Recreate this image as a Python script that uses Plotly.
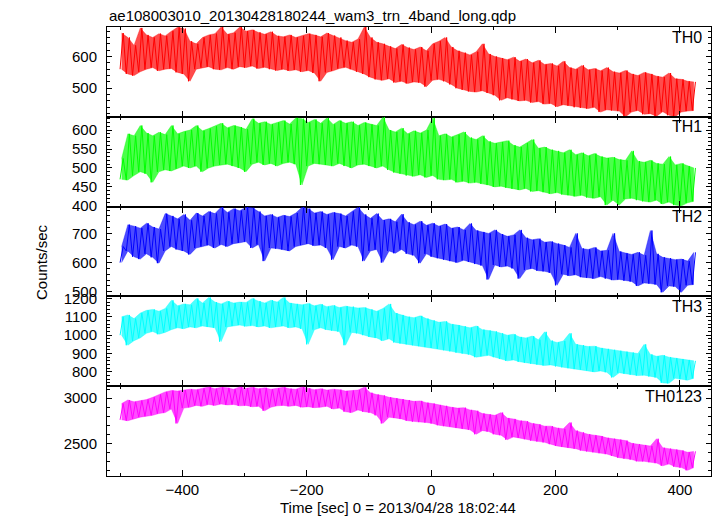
import plotly.graph_objects as go

# time grid (sec), every 10 s; each bin has a low and a high reading
t = list(range(-500, 421, 10))

th0_hi = [674,660,635,690,668,660,672,665,680,692,688,648,640,660,668,672,693,670,675,693,
          680,684,676,670,678,665,662,668,660,665,672,668,662,674,666,660,650,645,655,693,
          660,645,640,632,625,638,628,622,630,618,640,648,660,630,618,612,605,615,640,608,
          600,595,590,598,585,592,580,588,575,578,570,585,565,560,572,558,562,555,565,552,
          548,556,545,540,550,545,538,535,548,530,528,522,520]
th0_lo = [560,545,540,552,560,565,555,560,562,550,545,522,560,565,568,560,558,565,560,568,
          565,570,562,566,560,556,560,555,558,552,556,548,522,550,555,562,566,560,552,545,
          535,528,525,530,518,522,515,520,518,505,525,528,522,512,500,495,490,488,492,485,
          478,462,470,465,460,462,455,458,450,452,442,448,445,440,438,436,440,425,432,430,
          428,410,425,430,418,420,412,426,415,410,425,428,430]

th1_hi = [525,590,585,612,592,585,594,588,612,590,596,600,612,598,604,610,618,606,612,608,
          602,630,618,622,615,620,625,616,632,630,620,628,618,632,615,625,618,622,612,620,
          615,612,634,600,595,605,590,598,592,600,632,585,590,582,588,595,580,575,585,570,
          565,568,572,560,555,565,575,552,555,548,545,540,548,535,540,532,538,530,526,528,
          522,520,545,518,515,520,512,510,530,508,512,505,500]
th1_lo = [470,468,480,490,485,462,490,495,492,498,505,500,505,490,500,505,508,510,505,500,
          490,510,515,508,512,505,512,515,510,455,505,512,510,508,505,512,505,500,508,510,
          505,500,505,495,488,485,480,478,482,475,480,470,468,470,462,465,460,462,458,455,
          450,452,448,445,442,446,438,440,436,432,435,430,428,425,428,422,420,424,402,415,
          402,418,420,415,412,410,415,405,410,402,400,408,412]

th2_hi = [655,730,725,718,735,722,715,768,760,750,765,745,770,760,775,768,790,772,785,778,
          790,788,775,760,765,755,762,758,770,790,785,770,775,765,772,768,760,775,790,765,
          752,768,745,750,740,766,738,730,742,728,735,725,732,718,722,712,734,710,705,700,
          712,698,690,695,712,685,678,682,670,672,665,660,652,700,648,645,652,640,642,700,
          638,632,628,635,625,710,630,618,615,610,612,605,635]
th2_lo = [600,640,620,612,630,618,598,640,655,645,640,628,650,655,660,650,662,655,665,668,
          672,650,662,605,650,648,645,640,655,660,665,658,660,650,610,655,650,660,655,605,
          640,645,600,640,632,645,630,625,598,630,620,615,610,605,600,608,602,595,590,542,
          592,585,588,580,545,575,580,572,570,565,522,560,555,558,550,548,545,552,545,540,
          542,538,535,520,530,528,525,498,520,518,498,522,525]

th3_hi = [1100,1110,1090,1120,1135,1140,1130,1145,1190,1160,1170,1165,1200,1175,1205,1180,1170,1185,1175,1180,
          1178,1200,1185,1175,1190,1180,1205,1175,1170,1165,1172,1160,1168,1155,1162,1150,1158,1155,1148,1150,
          1140,1130,1145,1170,1120,1110,1100,1095,1105,1090,1080,1070,1075,1060,1055,1048,1040,1050,1030,1025,
          1020,1010,1000,1005,990,985,995,975,1018,970,960,968,1010,950,945,938,940,930,925,920,
          915,910,905,900,950,895,885,890,880,875,870,865,860]
th3_lo = [1000,945,970,985,1010,1020,1005,1015,1030,1040,1035,1045,1040,1050,1045,1040,965,1045,1050,1055,
          1048,1052,1045,1050,1040,1045,1050,1040,1045,1035,950,1030,1040,1030,1025,1020,945,1015,1010,1000,
          990,985,970,980,960,955,950,945,940,935,930,925,918,912,905,900,895,880,885,890,
          880,870,860,865,855,850,845,840,835,838,830,825,820,815,812,808,800,805,798,770,
          795,790,785,780,782,775,770,740,738,765,760,755,765]

th0123_hi = [2940,2980,2960,2975,2985,3010,3040,3070,3085,3080,3090,3100,3095,3110,3125,3105,3120,3115,3100,3125,
             3110,3120,3105,3115,3100,3110,3120,3105,3100,3125,3110,3095,3105,3090,3100,3095,3080,3085,3090,3120,
             3060,3040,3030,3010,3000,2990,2980,2965,2970,2950,2940,2925,2915,2900,2890,2895,2870,2860,2830,2820,
             2810,2840,2780,2770,2750,2745,2720,2710,2690,2690,2670,2660,2730,2640,2620,2600,2590,2580,2560,2550,
             2540,2530,2500,2490,2480,2470,2550,2450,2440,2430,2420,2400,2410]
th0123_lo = [2760,2750,2770,2790,2800,2810,2830,2840,2880,2720,2890,2900,2920,2910,2930,2920,2935,2925,2930,2915,
             2920,2905,2910,2860,2900,2915,2920,2910,2920,2900,2905,2895,2900,2910,2880,2890,2850,2840,2870,2850,
             2840,2810,2720,2790,2780,2770,2750,2740,2735,2730,2720,2700,2690,2685,2670,2660,2650,2600,2640,2630,
             2600,2590,2540,2570,2560,2545,2530,2520,2510,2490,2470,2460,2450,2440,2420,2410,2400,2390,2380,2360,
             2340,2330,2320,2300,2300,2290,2280,2250,2270,2240,2230,2200,2230]

names = ["TH0", "TH1", "TH2", "TH3", "TH0123"]
his = [th0_hi, th1_hi, th2_hi, th3_hi, th0123_hi]
los = [th0_lo, th1_lo, th2_lo, th3_lo, th0123_lo]
colors = ["#ff0000", "#00ff00", "#0000ff", "#00ffff", "#ff00ff"]
fills = ["rgba(255,0,0,0.7)", "rgba(0,255,0,0.7)", "rgba(0,0,255,0.7)",
         "rgba(0,255,255,0.7)", "rgba(255,0,255,0.7)"]
yranges = [[410, 693], [398, 635], [484, 792], [722, 1211], [2137, 3133]]
ydticks = [100, 50, 100, 100, 500]
yminor = [20, 10, 20, 20, 100]

fig = go.Figure()
n = len(names)
for k in range(n):
    ax = "" if k == 0 else str(k + 1)
    xs, ys = [], []
    for ti, lo, hi in zip(t, los[k], his[k]):
        xs += [ti, ti + 5]
        ys += [lo, hi]
    xm = [ti + 2.5 for ti in t]
    # envelope: extent of the data and its error bars
    fig.add_trace(go.Scatter(x=xm, y=his[k], mode="lines",
                             line=dict(width=0.5, color=fills[k]), xaxis="x" + ax, yaxis="y" + ax,
                             showlegend=False, hoverinfo="skip"))
    fig.add_trace(go.Scatter(x=xm, y=los[k], mode="lines",
                             line=dict(width=0.5, color=fills[k]), fill="tonexty",
                             fillcolor=fills[k], xaxis="x" + ax, yaxis="y" + ax,
                             showlegend=False, hoverinfo="skip"))
    # the light curve itself, low/high readings in turn
    fig.add_trace(go.Scatter(x=xs, y=ys, mode="lines", line=dict(width=1, color=colors[k]),
                             xaxis="x" + ax, yaxis="y" + ax, showlegend=False))

L, R, T, B = 107, 711, 27, 476
W, H = 717, 516
layout = dict(width=W, height=H, margin=dict(l=L, r=W - R, t=T, b=H - B),
              paper_bgcolor="white", plot_bgcolor="white",
              font=dict(family="Liberation Sans, Arial, sans-serif", size=15, color="black"),
              showlegend=False)
for k in range(n):
    ax = "" if k == 0 else str(k + 1)
    dom = [1 - (k + 1) / n, 1 - k / n]
    layout["xaxis" + ax] = dict(
        range=[-521, 450], anchor="y" + ax, domain=[0, 1],
        showline=True, linecolor="black", linewidth=1, mirror="allticks",
        ticks="inside", ticklen=6, tickcolor="black", tickwidth=1,
        dtick=200, tick0=0, showgrid=False, zeroline=False,
        minor=dict(dtick=100, tick0=0, ticklen=3, ticks="inside", tickcolor="black", showgrid=False),
        showticklabels=(k == n - 1), tickfont=dict(size=15),
        **({} if k == 0 else {"matches": "x"}))
    layout["yaxis" + ax] = dict(
        range=yranges[k], anchor="x" + ax, domain=dom,
        showline=True, linecolor="black", linewidth=1, mirror="allticks",
        ticks="inside", ticklen=5, tickcolor="black", tickwidth=1,
        dtick=ydticks[k], tick0=0, showgrid=False, zeroline=False,
        minor=dict(dtick=yminor[k], tick0=0, ticklen=3, ticks="inside", tickcolor="black", showgrid=False),
        tickfont=dict(size=15), ticklabelstandoff=6)
fig.update_layout(**layout)

ph = B - T
def py(p):
    return (B - p) / ph

anns = [dict(text="ae108003010_20130428180244_wam3_trn_4band_long.qdp", x=0, y=py(15.5),
             xref="paper", yref="paper", xanchor="left", yanchor="middle", showarrow=False,
             font=dict(size=15)),
        dict(text="Time [sec] 0 = 2013/04/28 18:02:44", x=(398 - L) / (R - L), y=py(507),
             xref="paper", yref="paper", xanchor="center", yanchor="middle", showarrow=False,
             font=dict(size=15)),
        dict(text="Counts/sec", x=(41 - L) / (R - L), y=py(262), textangle=-90,
             xref="paper", yref="paper", xanchor="center", yanchor="middle", showarrow=False,
             font=dict(size=15))]
for k in range(n):
    top = T + k * ph / n
    anns.append(dict(text=names[k], x=(704 - L) / (R - L), y=py(top + 10), xref="paper", yref="paper",
                     xanchor="right", yanchor="middle", showarrow=False, font=dict(size=16)))
fig.update_layout(annotations=anns)

fig.write_html("out.html", config={"displayModeBar": False},
               post_script="document.body.style.margin='0px';document.body.style.overflow='hidden';")
